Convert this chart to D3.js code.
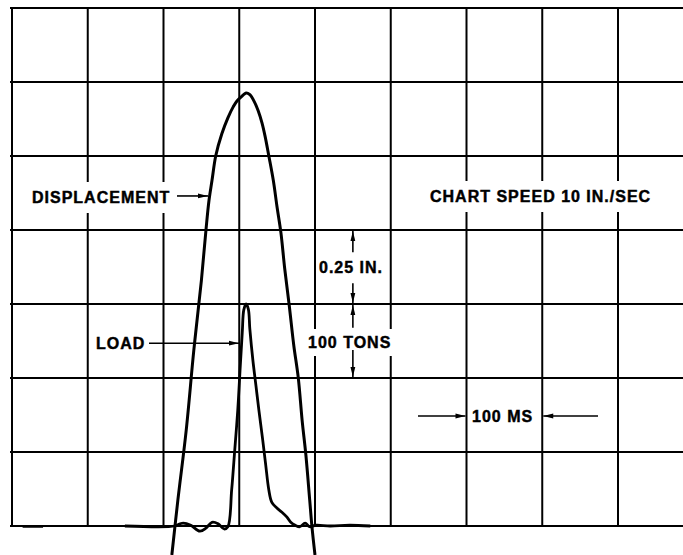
<!DOCTYPE html>
<html>
<head>
<meta charset="utf-8">
<script src="https://cdn.jsdelivr.net/npm/d3@7"></script>
<style>
  html, body { margin: 0; padding: 0; background: #fff; }
  svg { display: block; }
  .lbl { font-family: "Liberation Sans", Arial, Helvetica, sans-serif; font-weight: bold; font-size: 16px; letter-spacing: 1px; fill: #000; stroke: #000; stroke-width: 0.45px; }
</style>
</head>
<body>
<svg id="chart" width="683" height="555"></svg>
<script>
// Oscillograph record: ram displacement and load against time.
// Grid divisions: 100 ms horizontally; 0.25 in. / 100 tons vertically.
const gridTimeMs = [0, 100, 200, 300, 400, 500, 600, 700, 800, 900];
const gridDispIn = [0, 0.25, 0.5, 0.75, 1.0, 1.25, 1.5, 1.75];

// Displacement trace (inches)
const dispTimeMs = [211, 219, 230, 240, 250, 256, 260, 264, 269, 277, 285, 292, 297, 304, 309, 314, 320, 325, 330, 334, 339, 345, 350, 355, 360, 366, 372, 378, 383, 388, 393, 396, 400];
const dispInches = [-0.098, 0.088, 0.324, 0.593, 0.829, 0.998, 1.099, 1.167, 1.251, 1.325, 1.379, 1.416, 1.436, 1.453, 1.463, 1.457, 1.433, 1.403, 1.362, 1.318, 1.251, 1.167, 1.076, 0.991, 0.870, 0.745, 0.610, 0.499, 0.357, 0.239, 0.088, -0.003, -0.098];

// Load trace (tons); NaN marks a break in the recorded trace
const loadTimeMs = [14, 41, NaN, 149, 215, 222, 226, 236, 248, 256, 264, 272, 280, 285, 290, 294, 298, 301, 304, 306, 309, 312, 314, 318, 322, 326, 331, 335, 339, 343, 350, 356, 363, 368, 374, 380, 387, 393, 401, 420, 446, 473];
const loadTons   = [-0.5, -0.5, NaN, 0, 0, 3, 4, 1, -7, -3, 5, 3, -4, -1, 49, 102, 156, 210, 262, 292, 300, 293, 266, 224, 190, 156, 116, 82, 49, 32, 24, 19, 12, 5, 1, -1, 4, -1, 1, 0, 1, 0];

const W = 683, H = 555;
const svg = d3.select("#chart");

const x = d3.scaleLinear().domain([0, 900]).range([12, 693.75]);
const yDisp = d3.scaleLinear().domain([0, 1.75]).range([526, 8]);
const yLoad = d3.scaleLinear().domain([0, 700]).range([526, 8]);

// ---- grid ----
const grid = svg.append("g").attr("stroke", "#000").attr("stroke-width", 2);
grid.selectAll("line.v").data(gridTimeMs).join("line")
  .attr("class", "v")
  .attr("x1", d => x(d)).attr("x2", d => x(d))
  .attr("y1", yDisp(1.75)).attr("y2", yDisp(0));
grid.selectAll("line.h").data(gridDispIn).join("line")
  .attr("class", "h")
  .attr("x1", x(0) - 2).attr("x2", W)
  .attr("y1", d => yDisp(d)).attr("y2", d => yDisp(d));

// ---- labels with knocked-out background ----
const ann = svg.append("g");
function label(txt, xPos, yBase, padX, padY) {
  const g = ann.append("g");
  const t = g.append("text").attr("class", "lbl").attr("x", xPos).attr("y", yBase).text(txt);
  const b = t.node().getBBox();
  g.insert("rect", "text")
    .attr("x", b.x - padX).attr("y", b.y + 2 - padY)
    .attr("width", b.width + 2 * padX - 1).attr("height", b.height - 4 + 2 * padY)
    .attr("fill", "#fff");
  return b;
}

// arrow: shaft from (x1,y1) to (x2,y2), slender filled head at (x2,y2)
const arrows = svg.append("g");
function arrow(x1, y1, x2, y2) {
  arrows.append("line")
    .attr("x1", x1).attr("y1", y1).attr("x2", x2).attr("y2", y2)
    .attr("stroke", "#000").attr("stroke-width", 1.6);
  const ang = Math.atan2(y2 - y1, x2 - x1);
  const L = 10, w = 2.4;
  const bx = x2 - L * Math.cos(ang), by = y2 - L * Math.sin(ang);
  const px = -Math.sin(ang) * w, py = Math.cos(ang) * w;
  arrows.append("path")
    .attr("d", `M${x2},${y2}L${bx + px},${by + py}L${bx - px},${by - py}Z`)
    .attr("fill", "#000");
}

label("DISPLACEMENT", 32, 203, 3, 9);
label("CHART SPEED 10 IN./SEC", 430, 202, 3, 9);
label("0.25 IN.", 319, 273, 1, 4);
label("100 TONS", 308, 348, 2, 7);
label("LOAD", 96, 349, 2, 4);
label("100 MS", 472, 422, 1, 3);

// ---- traces ----
const dispLine = d3.line()
  .x((d, i) => x(dispTimeMs[i]))
  .y(d => yDisp(d))
  .curve(d3.curveCatmullRom.alpha(0.5));
svg.append("path")
  .attr("d", dispLine(dispInches))
  .attr("fill", "none").attr("stroke", "#000").attr("stroke-width", 3)
  .attr("stroke-linejoin", "round");

const loadLine = d3.line()
  .defined((d, i) => !isNaN(d) && !isNaN(loadTimeMs[i]))
  .x((d, i) => x(loadTimeMs[i]))
  .y(d => yLoad(d))
  .curve(d3.curveCatmullRom.alpha(0.5));
svg.append("path")
  .attr("d", loadLine(loadTons))
  .attr("fill", "none").attr("stroke", "#000").attr("stroke-width", 2.8)
  .attr("stroke-linejoin", "round");

// ---- pointer arrows ----
// DISPLACEMENT -> rising displacement trace
arrow(177, yDisp(1.115), 208, yDisp(1.115));
// LOAD -> rising load trace
arrow(149, yLoad(247), 239, yLoad(247));
// vertical scale bars at 450 ms
const xs = x(450);
arrow(xs, yDisp(0.925), xs, yDisp(1.0) + 1);
arrow(xs, yDisp(0.82), xs, yDisp(0.75) - 1);
arrow(xs, yLoad(268), xs, yLoad(300) + 1);
arrow(xs, yLoad(238), xs, yLoad(200) - 1);
// horizontal time bar between 600 and 700 ms
const yt = 416;
arrow(418, yt, x(600) - 1, yt);
arrow(598, yt, x(700) + 1, yt);
</script>
</body>
</html>
